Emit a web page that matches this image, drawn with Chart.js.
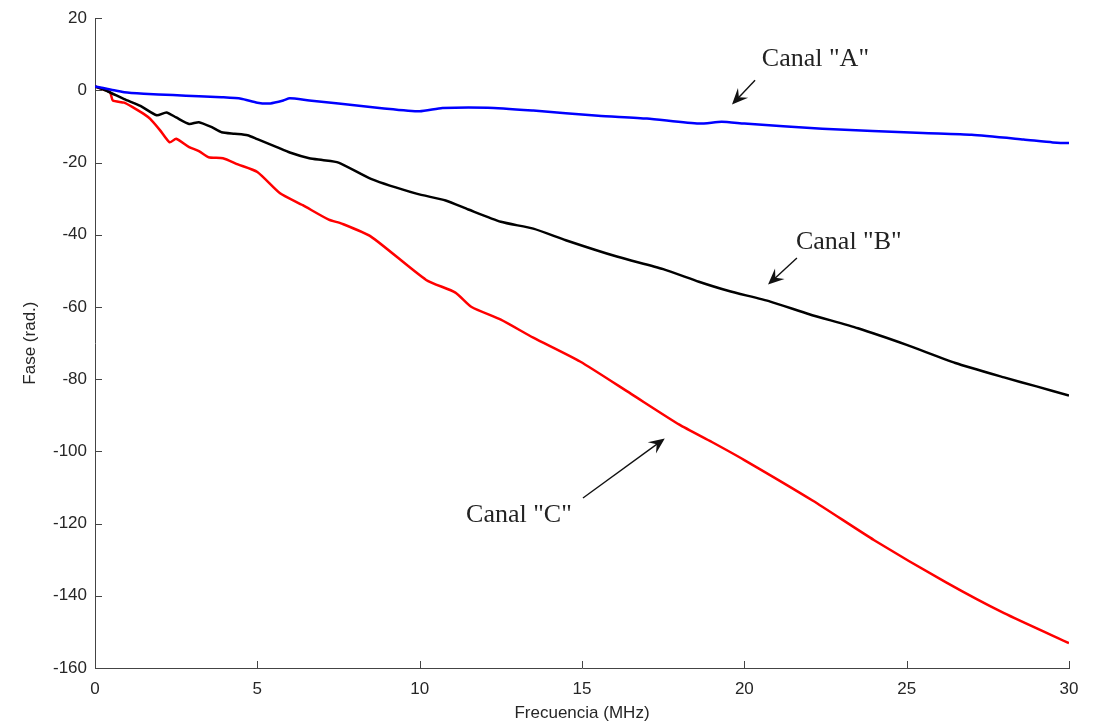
<!DOCTYPE html>
<html>
<head>
<meta charset="utf-8">
<script src="https://cdn.jsdelivr.net/npm/chart.js@4.4.1/dist/chart.umd.min.js"></script>
<style>
  html, body { margin: 0; padding: 0; background: #fff; }
  #wrap { width: 1109px; height: 727px; }
</style>
</head>
<body>
<div id="wrap"><canvas id="faseChart" width="1109" height="727"></canvas></div>
<script>
// Canal "A" (azul)
const freqA = [0, 0.5, 0.9, 1.5, 2.4, 3.2, 3.9, 4.5, 5.0, 5.4, 5.8, 6.0, 6.6, 7.5, 8.9, 10.0, 10.7, 12.1, 13.5, 15.5, 17.0, 18.6, 19.3, 20.0, 22.4, 25.5, 27.0, 28.6, 29.5, 30];
const faseA = [1.1, 0.2, -0.5, -0.9, -1.3, -1.6, -1.9, -2.3, -3.4, -3.6, -2.8, -2.2, -2.8, -3.6, -5.0, -5.8, -4.9, -4.8, -5.6, -7.0, -7.8, -9.2, -8.7, -9.2, -10.6, -11.8, -12.3, -13.6, -14.4, -14.6];

// Canal "B" (negro)
const freqB = [0, 0.4, 0.9, 1.4, 1.9, 2.2, 2.5, 2.9, 3.2, 3.6, 3.9, 4.3, 4.7, 5.0, 5.6, 6.0, 6.6, 7.0, 7.5, 8.5, 9.9, 10.8, 11.5, 12.5, 13.5, 14.5, 16.1, 17.5, 18.6, 19.5, 20.8, 22.0, 23.5, 25.0, 26.5, 28.0, 29.0, 30];
const faseB = [1.1, -0.3, -2.4, -4.3, -6.9, -6.1, -7.5, -9.3, -8.8, -10.2, -11.6, -12.0, -12.4, -13.5, -15.7, -17.2, -18.8, -19.3, -20.0, -24.5, -28.6, -30.5, -33.0, -36.4, -38.3, -41.5, -46.1, -49.5, -53.0, -55.5, -58.5, -62.0, -65.9, -70.5, -75.5, -79.5, -82.0, -84.5];

// Canal "C" (rojo)
const freqC = [0, 0.46, 0.55, 0.9, 1.17, 1.5, 1.7, 2.0, 2.3, 2.5, 2.9, 3.2, 3.5, 3.94, 4.4, 5.0, 5.7, 6.4, 7.2, 7.6, 8.5, 10.2, 11.1, 11.6, 12.5, 13.5, 14.94, 16.5, 18.0, 19.0, 20.0, 22.1, 24.0, 26.2, 28.0, 30];
const faseC = [1.1, -0.5, -2.8, -3.4, -4.7, -6.5, -7.9, -11.0, -14.4, -13.4, -15.7, -16.8, -18.5, -18.8, -20.5, -22.6, -28.5, -31.8, -35.8, -36.9, -40.5, -52.5, -56.0, -60.0, -63.5, -68.5, -75.1, -84.0, -92.6, -97.4, -102.4, -113.6, -124.6, -136.2, -144.8, -153.1];

const xTicks = [0, 5, 10, 15, 20, 25, 30];
const yTicks = [20, 0, -20, -40, -60, -80, -100, -120, -140, -160];

// Etiquetas con flecha (en unidades de datos)
const etiquetas = [
  { texto: 'Canal "A"', x: 20.54, y: 8.6, desde: [20.33, 2.8], hasta: [19.62, -3.9] },
  { texto: 'Canal "B"', x: 21.59, y: -42.0, desde: [21.62, -46.4], hasta: [20.73, -53.8] },
  { texto: 'Canal "C"', x: 11.43, y: -117.6, desde: [15.03, -112.9], hasta: [17.55, -96.4] }
];

const puntos = (xs, ys) => xs.map((x, i) => ({ x: x, y: ys[i] }));

// Ticks hacia adentro (estilo MATLAB) y anotaciones
const extrasPlugin = {
  id: "extras",
  afterDraw(chart) {
    const ctx = chart.ctx;
    const xs = chart.scales.x;
    const ys = chart.scales.y;
    const area = chart.chartArea;
    ctx.save();
    ctx.strokeStyle = "#444";
    ctx.lineWidth = 1;
    xTicks.forEach((t) => {
      const px = Math.round(xs.getPixelForValue(t)) + 0.5;
      ctx.beginPath();
      ctx.moveTo(px, area.bottom);
      ctx.lineTo(px, area.bottom - 7);
      ctx.stroke();
    });
    yTicks.forEach((t) => {
      const py = Math.round(ys.getPixelForValue(t)) + 0.5;
      ctx.beginPath();
      ctx.moveTo(area.left, py);
      ctx.lineTo(area.left + 7, py);
      ctx.stroke();
    });

    ctx.font = "26px 'Liberation Serif', 'DejaVu Serif', serif";
    ctx.textBaseline = "middle";
    ctx.textAlign = "left";
    etiquetas.forEach((e) => {
      ctx.fillStyle = "#222";
      ctx.fillText(e.texto, xs.getPixelForValue(e.x), ys.getPixelForValue(e.y));
      const x1 = xs.getPixelForValue(e.desde[0]);
      const y1 = ys.getPixelForValue(e.desde[1]);
      const x2 = xs.getPixelForValue(e.hasta[0]);
      const y2 = ys.getPixelForValue(e.hasta[1]);
      const ang = Math.atan2(y2 - y1, x2 - x1);
      const largo = 16, ancho = 7;
      ctx.strokeStyle = "#111";
      ctx.lineWidth = 1.4;
      ctx.beginPath();
      ctx.moveTo(x1, y1);
      ctx.lineTo(x2 - Math.cos(ang) * 8, y2 - Math.sin(ang) * 8);
      ctx.stroke();
      // punta de flecha
      const bx = x2 - Math.cos(ang) * largo;
      const by = y2 - Math.sin(ang) * largo;
      const nx = -Math.sin(ang), ny = Math.cos(ang);
      ctx.fillStyle = "#111";
      ctx.beginPath();
      ctx.moveTo(x2, y2);
      ctx.lineTo(bx + nx * ancho, by + ny * ancho);
      ctx.lineTo(x2 - Math.cos(ang) * 10, y2 - Math.sin(ang) * 10);
      ctx.lineTo(bx - nx * ancho, by - ny * ancho);
      ctx.closePath();
      ctx.fill();
    });
    ctx.restore();
  }
};

const tickFont = { family: "'Liberation Sans', Arial, sans-serif", size: 17 };

new Chart(document.getElementById("faseChart"), {
  type: "line",
  data: {
    datasets: [
      { label: 'Canal "A"', data: puntos(freqA, faseA), borderColor: "#0000ff", borderWidth: 2.5 },
      { label: 'Canal "B"', data: puntos(freqB, faseB), borderColor: "#000000", borderWidth: 2.5 },
      { label: 'Canal "C"', data: puntos(freqC, faseC), borderColor: "#ff0000", borderWidth: 2.5 }
    ]
  },
  options: {
    responsive: false,
    animation: false,
    layout: { padding: { top: 16, right: 40, left: 0, bottom: 0 } },
    elements: { point: { radius: 0 }, line: { tension: 0.2, fill: false } },
    plugins: { legend: { display: false }, tooltip: { enabled: false } },
    scales: {
      x: {
        type: "linear",
        min: 0,
        max: 30,
        grid: { display: false, drawTicks: false },
        border: { display: true, color: "#444", width: 1 },
        ticks: { stepSize: 5, padding: 11, color: "#262626", font: tickFont, maxRotation: 0 },
        title: { display: true, text: "Frecuencia (MHz)", color: "#262626", font: tickFont, padding: { top: 0, bottom: 3 } },
        afterFit(scale) { scale.height = 59; }
      },
      y: {
        min: -160,
        max: 20,
        grid: { display: false, drawTicks: false },
        border: { display: true, color: "#444", width: 1 },
        ticks: { stepSize: 20, padding: 8, color: "#262626", font: tickFont },
        title: { display: true, text: "Fase (rad.)", color: "#262626", font: tickFont, padding: { top: 20, bottom: 0 } },
        afterFit(scale) { scale.width = 95; }
      }
    }
  },
  plugins: [extrasPlugin]
});
</script>
</body>
</html>
